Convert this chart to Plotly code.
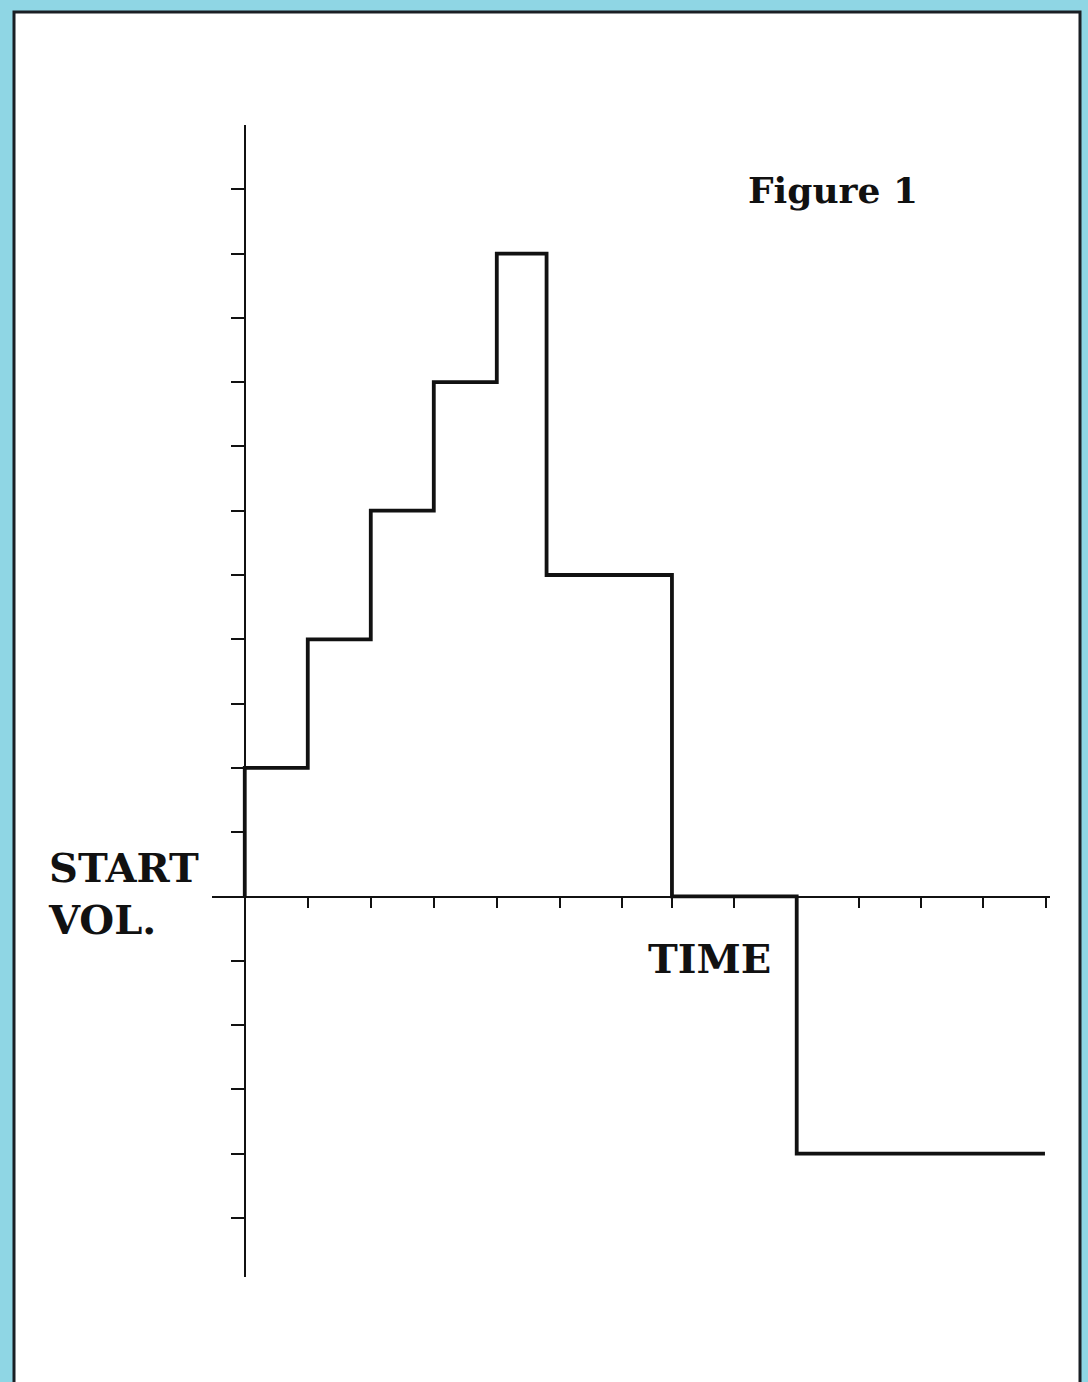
import plotly.graph_objects as go

# Step profile: volume relative to the starting volume over time
times = [0, 0, 1, 2, 3, 4, 4.79, 6.78, 8.76, 12.7]
volumes = [0, 2, 4, 6, 8, 10, 5, 0, -4, -4]

# Tick marks on the two axes (no labels)
x_ticks = [1, 2, 3, 4, 5, 5.98, 6.78, 7.76, 8.76, 9.75, 10.73, 11.71, 12.71]
y_ticks = [-5, -4, -3, -2, -1, 1, 2, 3, 4, 5, 6, 7, 8, 9, 10, 11]

W, H = 1088, 1382
INK = "#111111"
SERIF = "DejaVu Serif"


def px_x(p):
    return p / W


def px_y(p):
    return 1 - p / H


fig = go.Figure()
fig.add_trace(go.Scatter(
    x=times, y=volumes, mode="lines", line_shape="hv",
    line=dict(color=INK, width=3.8), hoverinfo="skip", showlegend=False,
))

axis_common = dict(
    showgrid=False, zeroline=False, showline=True, linecolor=INK, linewidth=2.4,
    ticks="outside", tickcolor=INK, tickwidth=2.4, showticklabels=False,
    tickmode="array", fixedrange=True,
)

fig.update_layout(
    width=W, height=H,
    margin=dict(l=0, r=0, t=0, b=0),
    paper_bgcolor="#8fd6e4",
    plot_bgcolor="rgba(0,0,0,0)",
    xaxis=dict(
        domain=[px_x(212), px_x(1050)], range=[-0.52, 12.78],
        anchor="free", position=px_y(897),
        tickvals=x_ticks, ticklen=10, **axis_common,
    ),
    yaxis=dict(
        domain=[px_y(1277), px_y(125)], range=[-5.92, 12.0],
        anchor="free", position=px_x(245),
        tickvals=y_ticks, ticklen=13, **axis_common,
    ),
    shapes=[dict(
        type="rect", xref="paper", yref="paper", layer="below",
        x0=px_x(14), x1=px_x(1080), y0=-0.02, y1=px_y(12),
        fillcolor="white", line=dict(color="#1a1f24", width=3),
    )],
)

text_font = dict(family=SERIF, size=40, color=INK)
fig.add_annotation(
    text="<b>Figure 1</b>", xref="paper", yref="paper",
    x=px_x(746), y=px_y(190), xanchor="left", yanchor="middle",
    showarrow=False, font=dict(family=SERIF, size=36, color=INK),
)
fig.add_annotation(
    text="<b>START</b><br><b>VOL.</b>", xref="paper", yref="paper",
    x=px_x(46), y=px_y(894), xanchor="left", yanchor="middle", align="left",
    showarrow=False, font=text_font,
)
fig.add_annotation(
    text="<b>TIME</b>", xref="paper", yref="paper",
    x=px_x(646), y=px_y(958), xanchor="left", yanchor="middle",
    showarrow=False, font=text_font,
)

fig.write_html("out.html")
